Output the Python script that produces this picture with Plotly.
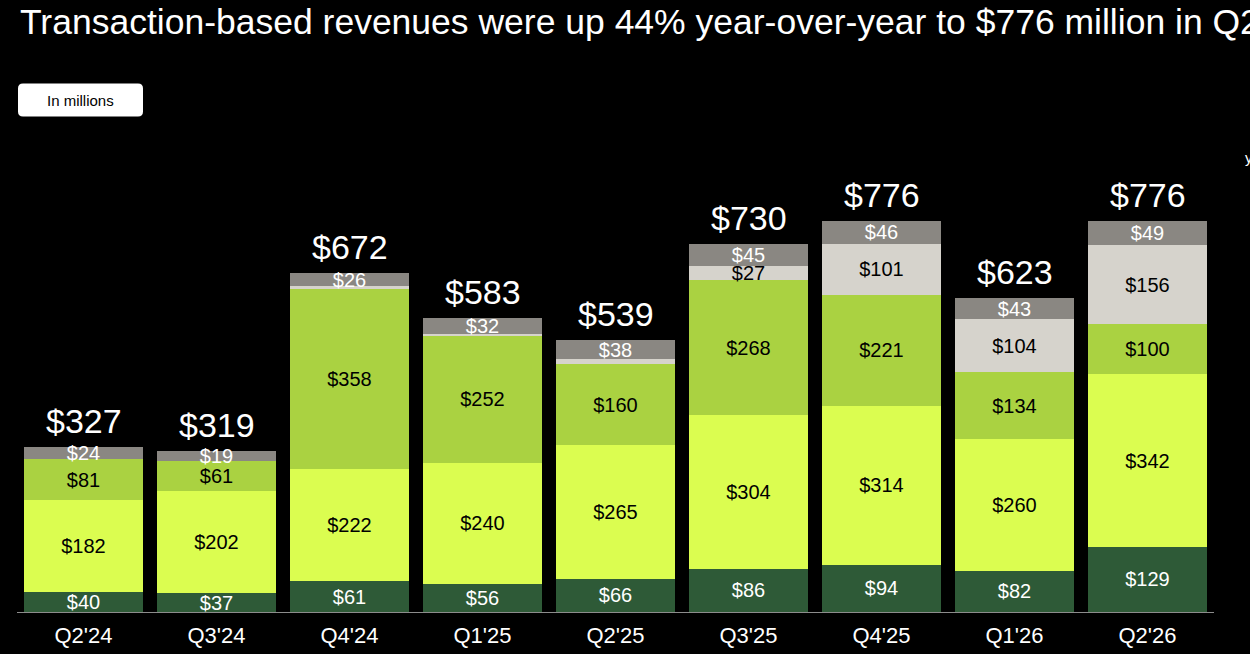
import plotly.graph_objects as go

# Data (USD millions)
quarters = ["Q2'24", "Q3'24", "Q4'24", "Q1'25", "Q2'25", "Q3'25", "Q4'25", "Q1'26", "Q2'26"]
seg_dark = [40, 37, 61, 56, 66, 86, 94, 82, 129]
seg_yellow = [182, 202, 222, 240, 265, 304, 314, 260, 342]
seg_green = [81, 61, 358, 252, 160, 268, 221, 134, 100]
seg_light = [0, 0, 5, 3, 10, 27, 101, 104, 156]
seg_gray = [24, 19, 26, 32, 38, 45, 46, 43, 49]
totals = [327, 319, 672, 583, 539, 730, 776, 623, 776]

FONT = "Liberation Sans, Arial, sans-serif"


def labels(vals, min_show=15):
    return [f"${v}" if v >= min_show else "" for v in vals]


series = [
    (seg_dark, "#2e5a37", "white"),
    (seg_yellow, "#dbfd50", "black"),
    (seg_green, "#aad241", "black"),
    (seg_light, "#d6d3cc", "black"),
    (seg_gray, "#8a8782", "white"),
]

fig = go.Figure()
for vals, color, tcolor in series:
    fig.add_trace(go.Bar(
        x=quarters, y=vals,
        marker=dict(color=color, line=dict(width=0)),
        text=labels(vals), textposition="inside", insidetextanchor="middle",
        textfont=dict(family=FONT, size=20, color=tcolor),
        constraintext="none", cliponaxis=False,
        hoverinfo="skip",
    ))

# totals above bars
for q, t in zip(quarters, totals):
    fig.add_annotation(x=q, y=t, text=f"${t}", showarrow=False,
                       yanchor="bottom", yshift=5,
                       font=dict(family=FONT, size=34, color="white"))

# "In millions" pill
x0, x1 = (18 - 17) / 1197, (143 - 17) / 1197
y0, y1 = (612 - 116) / 454.5, (612 - 83) / 454.5
rx, ry = 5 / 1197, 5 / 454.5
path = (f"M {x0+rx},{y0} L {x1-rx},{y0} Q {x1},{y0} {x1},{y0+ry} "
        f"L {x1},{y1-ry} Q {x1},{y1} {x1-rx},{y1} L {x0+rx},{y1} "
        f"Q {x0},{y1} {x0},{y1-ry} L {x0},{y0+ry} Q {x0},{y0} {x0+rx},{y0} Z")
fig.add_shape(type="path", path=path, xref="paper", yref="paper",
              fillcolor="white", line=dict(width=0), layer="above")
fig.add_annotation(x=(x0 + x1) / 2, y=(y0 + y1) / 2, xref="paper", yref="paper",
                   xanchor="center", yanchor="middle",
                   text="In millions", showarrow=False,
                   font=dict(family=FONT, size=15, color="black"))

# cut-off note at right edge
fig.add_annotation(x=(1243 - 17) / 1197, y=(612 - 157) / 454.5, xref="paper", yref="paper",
                   text="y/y", showarrow=False, xanchor="left", yanchor="middle",
                   font=dict(family=FONT, size=15, color="white"))

fig.update_layout(
    barmode="stack",
    bargap=0.1,
    width=1250, height=654,
    paper_bgcolor="black", plot_bgcolor="black",
    showlegend=False,
    margin=dict(l=17, r=36, t=157.5, b=42),
    title=dict(text="Transaction-based revenues were up 44% year-over-year to $776 million in Q2'26",
               x=20 / 1250, xanchor="left", xref="container",
               y=1 - 22 / 654, yanchor="middle", yref="container",
               font=dict(family=FONT, size=35.5, color="white")),
    xaxis=dict(showline=True, linecolor="#8c8c8c", linewidth=1, ticks="",
               ticklabelstandoff=4, automargin=False,
               tickfont=dict(family=FONT, size=22, color="white"),
               showgrid=False),
    yaxis=dict(range=[0, 900], visible=False, showgrid=False, zeroline=False,
               automargin=False),
)

fig.write_html("out.html", config={"displayModeBar": False},
               post_script="document.body.style.margin='0';document.body.style.background='black';")
